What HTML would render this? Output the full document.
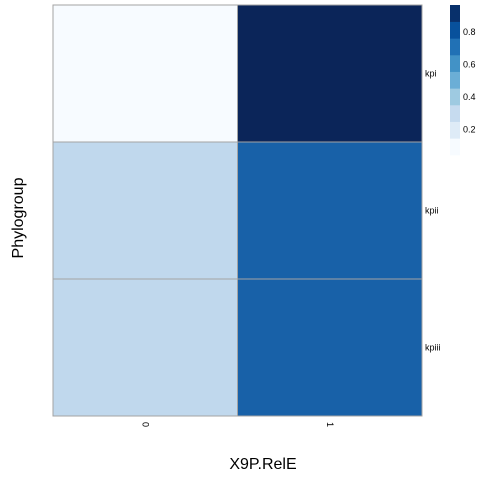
<!DOCTYPE html>
<html><head><meta charset="utf-8"><style>
html,body{margin:0;padding:0;background:#fff;width:480px;height:480px;overflow:hidden}
text{font-family:"Liberation Sans",sans-serif}
</style></head><body>
<svg id="chart" width="480" height="480" xmlns="http://www.w3.org/2000/svg">
<g id="cells"></g>
<g id="legend"></g>
<text x="263" y="469" font-size="16" text-anchor="middle">X9P.RelE</text>
<text transform="translate(23,218) rotate(-90)" font-size="16" text-anchor="middle">Phylogroup</text>
</svg>
<script>
const xCats = ["0","1"];
const yCats = ["kpi","kpii","kpiii"];
const values = [[0.0,1.0],[0.27,0.8],[0.27,0.8]];
const legendTicks = [0.2,0.4,0.6,0.8];
const palette = ["#F7FBFF","#DEEBF7","#C6DBEF","#9ECAE1","#6BAED6","#4292C6","#2171B5","#08519C","#08306B"];
const cellPalette = ["#F7FBFF","#DEEBF7","#C6DBEF","#9ECAE1","#6BAED6","#4292C6","#2171B5","#0B4A94","#0B2559"];

const NS="http://www.w3.org/2000/svg";
const L=53,R=422,T=5,B=416;
const cw=(R-L)/xCats.length, ch=(B-T)/yCats.length;
function xPos(i){return L+i*cw;}
function yPos(j){return T+j*ch;}
function hex(c){return [1,3,5].map(k=>parseInt(c.substr(k,2),16));}
function color(v,pal){
  v=Math.max(0,Math.min(1,v));const p=v*(pal.length-1);const i=Math.min(Math.floor(p),pal.length-2);const f=p-i;
  const a=hex(pal[i]),b=hex(pal[i+1]);
  return "rgb("+a.map((x,k)=>Math.round(x+(b[k]-x)*f)).join(",")+")";
}
const cells=document.getElementById("cells");
const svg=document.getElementById("chart");
yCats.forEach((yc,j)=>{xCats.forEach((xc,i)=>{
  const r=document.createElementNS(NS,"rect");
  r.setAttribute("x",xPos(i));r.setAttribute("y",yPos(j));r.setAttribute("width",cw);r.setAttribute("height",ch);
  r.setAttribute("fill",color(values[j][i],cellPalette));r.setAttribute("stroke","#a3a3a3");r.setAttribute("stroke-width","1");
  
  
  cells.appendChild(r);
});});
xCats.forEach((xc,i)=>{
  const t=document.createElementNS(NS,"text");
  const cx=xPos(i)+cw/2;
  t.setAttribute("transform","translate("+(cx-3)+",422) rotate(90)");
  t.setAttribute("font-size","9");t.textContent=xc;
  
  
  svg.appendChild(t);
});
yCats.forEach((yc,j)=>{
  const t=document.createElementNS(NS,"text");
  t.setAttribute("x",425);t.setAttribute("y",yPos(j)+ch/2+3);
  t.setAttribute("font-size","9");t.textContent=yc;
  
  
  svg.appendChild(t);
});
const leg=document.getElementById("legend");
const lx=450,lw=10,lt=5,lb=155;
const lmin=0.03,lmax=0.955;
function ly(v){return lb-(v-lmin)/(lmax-lmin)*(lb-lt);}
const bh=(lb-lt)/palette.length;
palette.forEach((c,k)=>{
  const r=document.createElementNS(NS,"rect");
  r.setAttribute("x",lx);r.setAttribute("y",lb-(k+1)*bh);r.setAttribute("width",lw);r.setAttribute("height",bh+0.3);
  r.setAttribute("fill",c);
  
  
  leg.appendChild(r);
});
legendTicks.forEach(v=>{
  const t=document.createElementNS(NS,"text");
  t.setAttribute("x",463);t.setAttribute("y",ly(v)+5);t.setAttribute("font-size","9");
  t.textContent=v.toFixed(1);
  
  
  leg.appendChild(t);
});
</script>
</body></html>
